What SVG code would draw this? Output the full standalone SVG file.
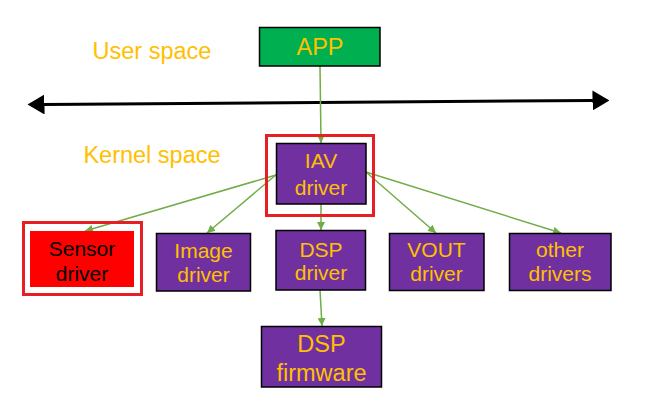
<svg xmlns="http://www.w3.org/2000/svg" width="646" height="412" viewBox="0 0 646 412">
<style>
text{font-family:"Liberation Sans",Arial,sans-serif;text-anchor:middle}
.lbl{fill:#FFC000;font-size:23.5px}
.t{fill:#FFC000;font-size:21px}
.box{stroke:#000;stroke-width:1.5}
.purple{fill:#7030A0}
.hl{fill:none;stroke:#E81E25;stroke-width:3}
.con{stroke:#70AD47;stroke-width:1.5;fill:none;marker-end:url(#ah)}
</style>
<defs>
<marker id="ah" viewBox="0 0 10 10" refX="10" refY="5" markerWidth="8" markerHeight="8" markerUnits="userSpaceOnUse" orient="auto">
<path d="M0,0 L10,5 L0,10 Z" fill="#70AD47"/>
</marker>
<marker id="bk" viewBox="0 0 17 20" refX="0.5" refY="10" markerWidth="17" markerHeight="20" markerUnits="userSpaceOnUse" orient="auto-start-reverse">
<path d="M0,0 L17,10 L0,20 Z" fill="#000"/>
</marker>
</defs>
<rect width="646" height="412" fill="#fff"/>
<text class="lbl" x="152" y="59">User space</text>
<text class="lbl" x="152" y="163">Kernel space</text>
<line x1="44" y1="104.5" x2="593" y2="100.5" stroke="#000" stroke-width="3" marker-start="url(#bk)" marker-end="url(#bk)"/>
<g id="connectors">
<line class="con" x1="320" y1="66" x2="321" y2="143"/>
<line class="con" x1="276" y1="175" x2="85" y2="231"/>
<line class="con" x1="277" y1="174" x2="207" y2="233"/>
<line class="con" x1="321" y1="204" x2="321" y2="230"/>
<line class="con" x1="366" y1="172" x2="436" y2="233"/>
<line class="con" x1="366" y1="172" x2="561" y2="233"/>
<line class="con" x1="320" y1="290" x2="322" y2="326"/>
</g>
<g id="app">
<rect class="box" x="259.5" y="27.5" width="120.5" height="38.5" fill="#00B050"/>
<text class="lbl" x="320" y="55">APP</text>
</g>
<g id="iav">
<rect class="hl" x="266.5" y="135.5" width="107" height="80"/>
<rect class="box purple" x="276.5" y="143.5" width="89.5" height="60.5"/>
<text class="t" x="321" y="168">IAV</text>
<text class="t" x="321" y="195">driver</text>
</g>
<g id="sensor">
<rect class="hl" x="23.5" y="222.5" width="118" height="72"/>
<rect x="30" y="231" width="104" height="56" fill="#FF0000"/>
<text class="t" x="82" y="256" style="fill:#000">Sensor</text>
<text class="t" x="82" y="281" style="fill:#000">driver</text>
</g>
<g id="image">
<rect class="box purple" x="156.5" y="233.5" width="94" height="57.5"/>
<text class="t" x="203.5" y="258">Image</text>
<text class="t" x="203.5" y="282">driver</text>
</g>
<g id="dsp">
<rect class="box purple" x="276" y="230.5" width="89.5" height="59.5"/>
<text class="t" x="321" y="257">DSP</text>
<text class="t" x="321" y="280">driver</text>
</g>
<g id="vout">
<rect class="box purple" x="389.5" y="233.5" width="94.5" height="57"/>
<text class="t" x="436.5" y="257">VOUT</text>
<text class="t" x="436.5" y="281">driver</text>
</g>
<g id="other">
<rect class="box purple" x="509.5" y="233.5" width="101.5" height="57"/>
<text class="t" x="560" y="257">other</text>
<text class="t" x="560" y="281">drivers</text>
</g>
<g id="firmware">
<rect class="box purple" x="261.5" y="326.5" width="120" height="60.5"/>
<text class="lbl" x="321.5" y="352">DSP</text>
<text class="lbl" x="321.5" y="381">firmware</text>
</g>
</svg>
